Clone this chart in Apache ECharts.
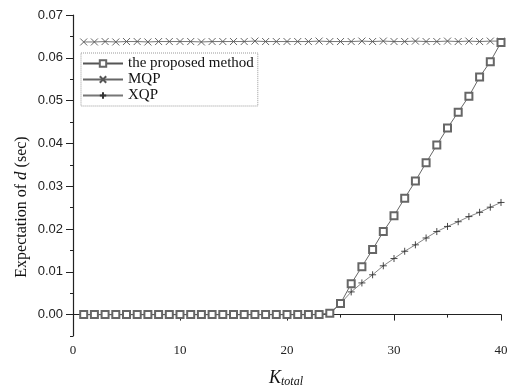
<!DOCTYPE html>
<html><head><meta charset="utf-8">
<script src="https://cdn.jsdelivr.net/npm/echarts@6/dist/echarts.min.js"></script>
<style>html,body{margin:0;padding:0;background:#fff}#c{width:515px;height:390px}</style>
</head><body><div id="c"></div>
<script>
const kValues = [1,2,3,4,5,6,7,8,9,10,11,12,13,14,15,16,17,18,19,20,21,22,23,24,25,26,27,28,29,30,31,32,33,34,35,36,37,38,39,40];
const proposed = [0,0,0,0,0,0,0,0,0,0,0,0,0,0,0,0,0,0,0,0,0,0,0,0.0003,
  0.0026,0.0072,0.0112,0.0152,0.0194,0.0231,0.0272,0.0312,0.0355,0.0396,0.0436,0.0473,0.0510,0.0555,0.0591,0.0636];
const mqp = [0.0637,0.0637,0.0638,0.0637,0.0638,0.0638,0.0637,0.0638,0.0638,0.0638,0.0638,0.0637,0.0638,0.0638,0.0638,0.0638,0.0639,0.0638,0.0638,0.0638,
  0.0638,0.0638,0.0639,0.0638,0.0638,0.0638,0.0639,0.0638,0.0639,0.0638,0.0638,0.0639,0.0638,0.0638,0.0639,0.0638,0.0639,0.0638,0.0639,0.0639];
const xqp = [0,0,0,0,0,0,0,0,0,0,0,0,0,0,0,0,0,0,0,0,0,0,0,0.0003,
  0.0026,0.0053,0.0074,0.0093,0.0114,0.0131,0.0148,0.0163,0.0179,0.0194,0.0206,0.0217,0.0229,0.0239,0.0251,0.0262];
const yMajorTicks = [0,0.01,0.02,0.03,0.04,0.05,0.06,0.07];
const yMinorTicks = [-0.005,0.005,0.015,0.025,0.035,0.045,0.055,0.065];
const seriesNames = ['the proposed method','MQP','XQP'];

const pair = arr => kValues.map((k,i)=>[k,arr[i]]);
const chart = echarts.init(document.getElementById('c'));
const serif = 'Liberation Serif';
chart.setOption({
  animation:false,
  backgroundColor:'#fff',
  grid:{left:73,right:14,top:15,bottom:54},
  legend:{
    orient:'vertical', left:81, top:53, itemWidth:40, itemHeight:8, itemGap:1,
    padding:[3,4,3,1], borderColor:'#999', borderWidth:1, borderType:'dotted',
    textStyle:{fontFamily:serif, fontSize:15, color:'#111'},
    data:seriesNames
  },
  xAxis:{
    type:'value', min:0, max:40, interval:10,
    axisLine:{lineStyle:{color:'#222',width:1.2}},
    axisTick:{inside:false,length:6,lineStyle:{color:'#222'}},
    minorTick:{show:true,splitNumber:2,length:3,lineStyle:{color:'#222'}},
    splitLine:{show:false},
    axisLabel:{fontFamily:serif,fontSize:13,color:'#222',margin:8}
  },
  yAxis:[{
    type:'value', min:-0.005, max:0.07,
    axisLine:{show:true,lineStyle:{color:'#222',width:1.2}},
    axisTick:{show:true,length:7,customValues:yMajorTicks,lineStyle:{color:'#222'}},
    axisLabel:{customValues:yMajorTicks,fontFamily:'Liberation Sans',fontSize:13,color:'#222',margin:10,
      formatter:v=>v.toFixed(2)},
    splitLine:{show:false}
  },{
    type:'value', min:-0.005, max:0.07, position:'left',
    axisLine:{show:false},
    axisTick:{show:true,length:3,customValues:yMinorTicks,lineStyle:{color:'#222'}},
    axisLabel:{show:false}, splitLine:{show:false}
  }],
  graphic:[
    {type:'text', x:22, y:207, rotation:Math.PI/2,
     style:{text:'Expectation of {i|d} (sec)', font:'16px "Liberation Serif"', fill:'#111',
       align:'center', verticalAlign:'middle',
       rich:{i:{fontStyle:'italic', fontFamily:serif, fontSize:17}}}},
    {type:'text', x:286, y:378,
     style:{text:'{k|K}{t|total}', fill:'#111', align:'center', verticalAlign:'middle',
       rich:{k:{fontStyle:'italic',fontFamily:serif,fontSize:18},
             t:{fontStyle:'italic',fontFamily:serif,fontSize:12,padding:[8,0,0,0]}}}}
  ],
  series:[
    {name:seriesNames[0], type:'line', data:pair(proposed), symbol:'emptyRect', symbolSize:7,
     lineStyle:{color:'#555',width:0.9}, itemStyle:{color:'#666',borderWidth:0.8}, z:4},
    {name:seriesNames[1], type:'line', data:pair(mqp), symbol:'path://M0,0L10,10M10,0L0,10', symbolSize:7,
     lineStyle:{color:'#666',width:0.9}, itemStyle:{color:'none',borderColor:'#555',borderWidth:0.9}, z:3},
    {name:seriesNames[2], type:'line', data:pair(xqp), symbol:'path://M5,0L5,10M0,5L10,5', symbolSize:7,
     lineStyle:{color:'#777',width:0.9}, itemStyle:{color:'none',borderColor:'#333',borderWidth:0.9}, z:2}
  ]
});
</script></body></html>
